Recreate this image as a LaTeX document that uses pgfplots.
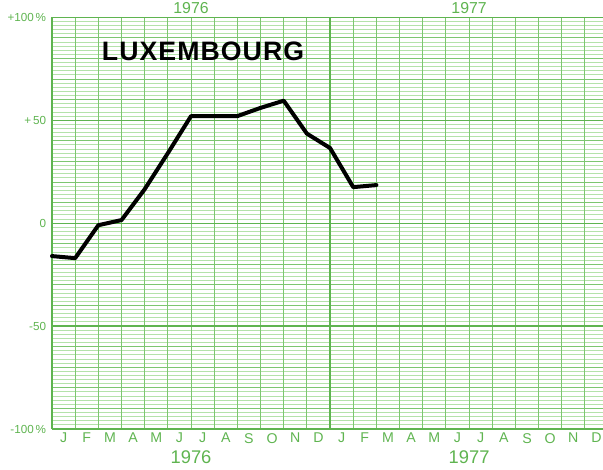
\documentclass[border=0pt]{standalone}
\usepackage{pgfplots}
\pgfplotsset{compat=1.18}
\usepackage{fontspec}
\setmainfont{Liberation Sans}
\newfontfamily\titlefont[LetterSpace=4]{Liberation Sans}
\definecolor{gr}{RGB}{95,180,80}
\definecolor{grm}{RGB}{125,198,112}
\definecolor{grl}{RGB}{180,226,170}
\begin{document}
\begin{tikzpicture}
\begin{axis}[
  scale only axis, width=330.6pt, height=247pt,
  xmin=0, xmax=23.78, ymin=-100, ymax=100,
  clip=false,
  axis line style={draw=none},
  tick style={draw=none},
  xtick={0.5,1.5,...,23.5},
  xticklabels={J,F,M,A,M,J,J,A,S,O,N,D,J,F,M,A,M,J,J,A,S,O,N,D},
  xticklabel style={font=\fontsize{8.5}{10}\selectfont, text=gr, yshift=1pt},
  ytick={-100,-50,0,50,100},
  yticklabels={-100\,\%,-50,0,+\,50,+100\,\%},
  yticklabel style={font=\fontsize{7}{8}\selectfont, text=gr},
]
\pgfplotsinvokeforeach{-98,-96,...,98}{
  \draw[grl, line width=0.55pt] (axis cs:0,#1) -- (axis cs:23.78,#1);
}
\pgfplotsinvokeforeach{-90,-80,...,90}{
  \draw[grm, line width=0.55pt] (axis cs:0,#1) -- (axis cs:23.78,#1);
}
\pgfplotsinvokeforeach{1,...,23}{
  \draw[grm, line width=0.55pt] (axis cs:#1,-100) -- (axis cs:#1,100);
}
\draw[gr, line width=0.7pt] (axis cs:0,50) -- (axis cs:23.78,50);
\draw[gr, line width=0.7pt] (axis cs:0,0) -- (axis cs:23.78,0);
\draw[gr, line width=0.7pt] (axis cs:0,-50) -- (axis cs:23.78,-50);
\draw[gr, line width=0.9pt] (axis cs:12,-100) -- (axis cs:12,100);
\draw[gr, line width=1.2pt] (axis cs:0,-100) -- (axis cs:0,100);
\draw[gr, line width=0.9pt] (axis cs:0,100) -- (axis cs:23.78,100);
\draw[gr, line width=1.2pt] (axis cs:0,-100) -- (axis cs:23.78,-100);

\addplot[black, line width=2.4pt, line join=round, line cap=round] coordinates {
  (0,-16) (1,-17) (2,-1) (3,1.5) (4,16.5) (5,34) (6,52) (7,52) (8,52)
  (9,56) (10,59.5) (11,43.5) (12,36.5) (13,17.5) (14,18.5)
};

\node[anchor=west, font=\titlefont\bfseries\fontsize{16}{18}\selectfont] at (axis cs:1.9,83.5) {LUXEMBOURG};

\node[font=\fontsize{11}{12}\selectfont, text=gr] at (axis cs:6,-100) [yshift=-17pt] {1976};
\node[font=\fontsize{11}{12}\selectfont, text=gr] at (axis cs:18,-100) [yshift=-17pt] {1977};
\node[font=\fontsize{9.5}{10}\selectfont, text=gr, anchor=base, inner sep=0pt] at (axis cs:6,100) [yshift=2pt] {1976};
\node[font=\fontsize{9.5}{10}\selectfont, text=gr, anchor=base, inner sep=0pt] at (axis cs:18,100) [yshift=2pt] {1977};

\coordinate (ll) at (rel axis cs:0,0);
\coordinate (ur) at (rel axis cs:1,1);
\end{axis}
\pgfresetboundingbox
\path[use as bounding box] ([xshift=-31.2pt,yshift=-24.6pt]ll) rectangle ([yshift=10.4pt]ur);
\end{tikzpicture}
\end{document}
